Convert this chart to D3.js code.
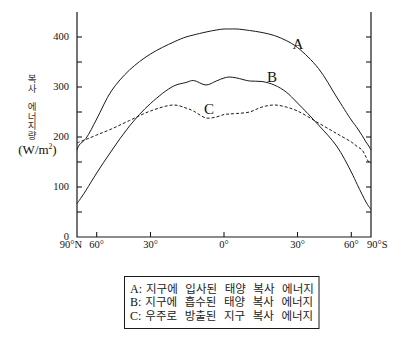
<!DOCTYPE html>
<html>
<head>
<meta charset="utf-8">
<script src="https://cdn.jsdelivr.net/npm/d3@7"></script>
<style>
  html, body { margin: 0; padding: 0; background: #fff; }
  svg { display: block; }
</style>
</head>
<body>
<svg id="chart" width="413" height="343"></svg>
<script>
// Latitude in degrees: north positive, south negative
const latitudes = [90, 80, 70, 60, 50, 40, 30, 20, 15, 12, 7, 3, 0, -2, -5, -10, -15, -20, -25, -30, -40, -50, -60, -65, -70, -75, -80, -90];
// A: solar radiation reaching the Earth (W/m²)
const incomingA = [174, 184, 197, 236, 292, 334, 366, 390, 400, 404, 410, 414, 416, 416, 416, 413, 409, 403, 393, 379, 337, 280, 234, 218, 203, 190, 182, 174];
// B: solar radiation absorbed by the Earth
const absorbedB = [67, 73, 93, 128, 172, 222, 267, 302, 309, 313, 304, 312, 318, 320, 318, 312, 311, 304, 290, 268, 224, 182, 130, 105, 85, 70, 61, 55];
// C: terrestrial radiation emitted to space
const emittedC = [188, 190, 195, 204, 216, 233, 252, 264, 258, 252, 238, 240, 245, 246, 247, 250, 260, 264, 260, 252, 228, 207, 190, 181, 174, 160, 150, 147];

const yTicks = [0, 50, 100, 150, 200, 250, 300, 350, 400];
const xTickLats = [90, 60, 30, 0, -30, -60, -90];
const xTickLabels = ["90°N", "60°", "30°", "0°", "30°", "60°", "90°S"];
const seriesNames = ["A", "B", "C"];
const legendTexts = ["지구에 입사된 태양 복사 에너지", "지구에 흡수된 태양 복사 에너지", "우주로 방출된 지구 복사 에너지"];
const yTitleChars = ["복", "사", "에", "너", "지", "량"];

const SERIF = "'Liberation Serif', 'DejaVu Serif', serif";
const KR = "'Noto Sans CJK KR', sans-serif";

const svg = d3.select("#chart");
const plotLeft = 77, plotRight = 371, plotTop = 12, plotBottom = 237;

// Horizontal position is proportional to sin(latitude) (area-weighted)
const xs = d3.scaleLinear().domain([1, -1]).range([plotLeft, plotRight]);
const xLat = lat => xs(Math.sin(lat * Math.PI / 180));
const y = d3.scaleLinear().domain([0, 450]).range([plotBottom, plotTop]);

const ink = "#1a1a1a";
const textInk = "#111";

// Frame: left, right and bottom
svg.append("path")
  .attr("d", `M${plotLeft},${plotTop}V${plotBottom}H${plotRight}V${plotTop}`)
  .attr("fill", "none").attr("stroke", ink).attr("stroke-width", 1.2);

// Y ticks on both sides, pointing inward
svg.append("g").selectAll("line").data(yTicks.filter(d => d > 0)).join("line")
  .attr("x1", plotLeft).attr("x2", plotLeft + 5)
  .attr("y1", d => y(d)).attr("y2", d => y(d))
  .attr("stroke", ink).attr("stroke-width", 1.1);
svg.append("g").selectAll("line").data(yTicks.filter(d => d > 0)).join("line")
  .attr("x1", plotRight).attr("x2", plotRight - 5)
  .attr("y1", d => y(d)).attr("y2", d => y(d))
  .attr("stroke", ink).attr("stroke-width", 1.1);

svg.append("g").selectAll("text").data(yTicks.filter(d => d % 100 === 0)).join("text")
  .attr("font-family", SERIF).attr("fill", textInk)
  .attr("x", 69).attr("y", d => y(d) + 3.3)
  .attr("text-anchor", "end").attr("font-size", 10.5)
  .text(d => d);

// X ticks
svg.append("g").selectAll("line").data(xTickLats.filter(d => Math.abs(d) < 90)).join("line")
  .attr("x1", d => xLat(d)).attr("x2", d => xLat(d))
  .attr("y1", plotBottom).attr("y2", plotBottom - 5)
  .attr("stroke", ink).attr("stroke-width", 1.1);

svg.append("g").selectAll("text").data(xTickLats).join("text")
  .attr("font-family", SERIF).attr("fill", textInk)
  .attr("x", (d, i) => i === 0 ? xLat(d) + 5 : i === xTickLats.length - 1 ? xLat(d) - 4 : xLat(d))
  .attr("y", 248)
  .attr("text-anchor", (d, i) => i === 0 ? "end" : i === xTickLats.length - 1 ? "start" : "middle")
  .attr("font-size", 10.5)
  .text((d, i) => xTickLabels[i]);

// Curves
const line = d3.line()
  .x((d, i) => xLat(latitudes[i]))
  .y(d => y(d))
  .curve(d3.curveCatmullRom.alpha(0.5));

svg.append("path").datum(incomingA).attr("d", line)
  .attr("fill", "none").attr("stroke", ink).attr("stroke-width", 1);
svg.append("path").datum(absorbedB).attr("d", line)
  .attr("fill", "none").attr("stroke", ink).attr("stroke-width", 1);
svg.append("path").datum(emittedC).attr("d", line)
  .attr("fill", "none").attr("stroke", ink).attr("stroke-width", 1)
  .attr("stroke-dasharray", "3,2");

// Curve labels
const labelPos = [[298, 48.5], [272, 81.5], [209, 113.5]];
svg.append("g").selectAll("text").data(seriesNames).join("text")
  .attr("font-family", SERIF).attr("fill", textInk)
  .attr("x", (d, i) => labelPos[i][0]).attr("y", (d, i) => labelPos[i][1])
  .attr("text-anchor", "middle").attr("font-size", 15)
  .text(d => d);

// Vertical axis title, one syllable per row
const yT = [78.5, 88, 106.5, 116, 125.5, 135];
svg.append("text")
  .attr("font-family", KR).attr("fill", "#333")
  .attr("text-anchor", "middle").attr("font-size", 9.5)
  .selectAll("tspan").data(yTitleChars).join("tspan")
  .attr("x", 32).attr("y", (d, i) => yT[i] + 3.5)
  .text(d => d);
const unit = svg.append("text")
  .attr("font-family", SERIF).attr("fill", textInk)
  .attr("x", 37.5).attr("y", 154).attr("text-anchor", "middle").attr("font-size", 13);
unit.append("tspan").text("(W/m");
unit.append("tspan").attr("font-size", 7.5).attr("dy", -5).text("2");
unit.append("tspan").attr("dy", 5).text(")");

// Legend box
svg.append("rect")
  .attr("x", 124.5).attr("y", 276.5).attr("width", 194.5).attr("height", 52)
  .attr("fill", "none").attr("stroke", ink).attr("stroke-width", 1);

const legend = svg.append("g").selectAll("text").data(seriesNames).join("text")
  .attr("x", 130).attr("y", (d, i) => 292.5 + i * 13.8);
legend.append("tspan").attr("font-family", SERIF).attr("fill", textInk)
  .attr("font-size", 12).text(d => d + ":");
legend.append("tspan").attr("font-family", KR).attr("fill", "#222")
  .attr("font-size", 11.5)
  .attr("dx", 4).attr("word-spacing", 5)
  .text((d, i) => legendTexts[i]);
</script>
</body>
</html>
